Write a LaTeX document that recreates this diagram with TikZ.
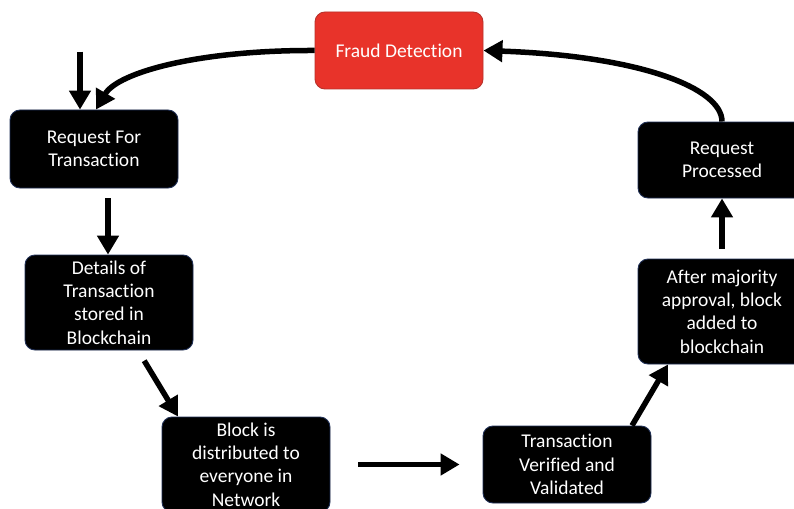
\documentclass[tikz,border=0pt]{standalone}
\usepackage{fontspec}
\setmainfont[Ligatures={NoCommon,NoRare}]{Carlito}
\usetikzlibrary{arrows.meta,calc}
\definecolor{boxline}{HTML}{1F2F55}
\definecolor{alertred}{HTML}{E8332A}
\definecolor{alertline}{HTML}{B8312A}
\tikzset{
  stepbox/.style={draw=boxline, line width=0.9pt, fill=black, text=white,
    rounded corners=10pt, minimum width=168pt, align=center,
    font=\fontsize{19.5}{23.3}\selectfont, inner sep=0pt},
  alertbox/.style={stepbox, draw=alertline, fill=alertred},
  flow/.style={line width=5.5pt, -{Triangle[length=19pt,width=21pt]}}
}
\begin{document}
\begin{tikzpicture}[x=1pt,y=-1pt]
\useasboundingbox (0,0) rectangle (794,508);
\clip (0,0) rectangle (794,508);
\fill[white] (0,0) rectangle (794,508);

% process steps
\node[alertbox, minimum height=77pt] (fraud) at (399,50.5) {Fraud Detection};
\node[stepbox, minimum height=78pt]  (req)   at (94,149)   {Request For\\Transaction};
\node[stepbox, minimum height=95pt]  (det)   at (109,302.5){Details of\\Transaction\\stored in\\Blockchain};
\node[stepbox, minimum height=95pt]  (blk)   at (246,464.5){Block is\\distributed to\\everyone in\\Network};
\node[stepbox, minimum height=77pt]  (ver)   at (567,464.5){Transaction\\Verified and\\Validated};
\node[stepbox, minimum height=105pt] (aft)   at (722,311.5){After majority\\approval, block\\added to\\blockchain};
\node[stepbox, minimum height=76pt]  (proc)  at (722,160)  {Request\\Processed};

% entry point
\coordinate (start) at ($(req.north)+(-14,-58)$);

% connectors
\draw[flow] (start) -- ([xshift=-14pt]req.north);
\draw[flow] (fraud.west) .. controls (200,50) and (118,72) .. ([xshift=2pt]req.north);
\draw[flow, shorten <=10pt] ([xshift=14pt]req.south) -- ([xshift=-1pt]det.north);
\draw[flow, shorten <=12pt] ([xshift=29pt]det.south) -- ([xshift=-68pt]blk.north);
\draw[flow, shorten <=28pt, shorten >=23pt] (blk.east |- ver.west) -- (ver.west);
\draw[flow] ([xshift=65pt]ver.north) -- ([xshift=-54pt]aft.south);
\draw[flow, shorten <=10pt] (aft.north) -- (proc.south);
\draw[flow] (proc.north) .. controls (722,88) and (640,56) .. (fraud.east);
\end{tikzpicture}
\end{document}
